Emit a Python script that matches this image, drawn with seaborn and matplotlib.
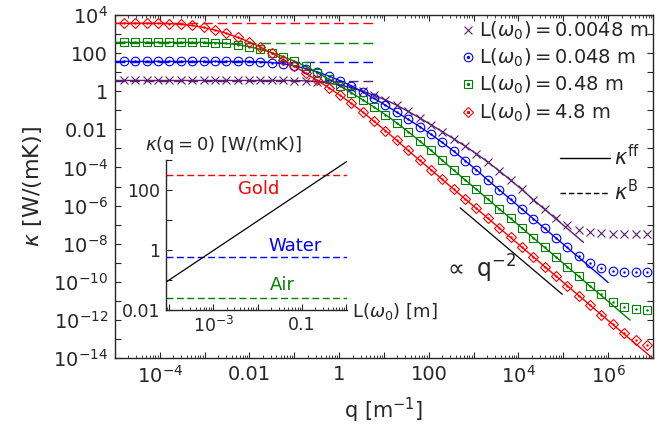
import numpy as np
import pandas as pd
import matplotlib
matplotlib.use("Agg")
import matplotlib.pyplot as plt
import seaborn as sns
from matplotlib.lines import Line2D
from matplotlib.legend_handler import HandlerTuple
from matplotlib.ticker import FixedLocator, FuncFormatter, LogLocator, NullLocator, NullFormatter

# marker positions, log10 of q [1/m]
q_exp = [-4.800, -4.546, -4.293, -4.039, -3.786, -3.532, -3.278, -3.025, -2.771, -2.518,
         -2.264, -2.010, -1.757, -1.503, -1.250, -0.996, -0.742, -0.489, -0.235, 0.018,
         0.272, 0.526, 0.779, 1.033, 1.286, 1.540, 1.794, 2.047, 2.301, 2.554,
         2.808, 3.062, 3.315, 3.569, 3.822, 4.076, 4.330, 4.583, 4.837, 5.090,
         5.344, 5.598, 5.851, 6.105, 6.358, 6.612, 6.866]

labels = [r"$\mathrm{L}\left(\omega_0\right)=0.0048\ \mathrm{m}$",
          r"$\mathrm{L}\left(\omega_0\right)=0.048\ \mathrm{m}$",
          r"$\mathrm{L}\left(\omega_0\right)=0.48\ \mathrm{m}$",
          r"$\mathrm{L}\left(\omega_0\right)=4.8\ \mathrm{m}$"]
colors = ["#5c1f70", "blue", "green", "red"]
markers = ["x", "o", "s", "D"]
msizes = [6.0, 6.2, 6.0, 4.8]

# log10 kappa^ff [W/(mK)] read at the marker positions (solid lines)
ff_purple = [0.565, 0.565, 0.565, 0.565, 0.565, 0.565, 0.565, 0.565, 0.565, 0.565,
             0.565, 0.565, 0.565, 0.565, 0.565, 0.562, 0.544, 0.504, 0.432, 0.322,
             0.181, 0.004, -0.211, -0.456, -0.734, -1.058, -1.399, -1.753, -2.123, -2.495,
             -2.878, -3.283, -3.716, -4.173, -4.663, -5.156, -5.69, -6.196, -6.704, -7.21,
             -7.718]
ff_blue = [1.565, 1.565, 1.565, 1.565, 1.565, 1.565, 1.565, 1.565, 1.565, 1.565,
           1.565, 1.562, 1.546, 1.507, 1.438, 1.330, 1.19, 1.016, 0.80, 0.56,
           0.283, -0.039, -0.38, -0.732, -1.102, -1.474, -1.856, -2.259, -2.69, -3.146,
           -3.636, -4.128, -4.66, -5.168, -5.674, -6.182, -6.69, -7.196, -7.704, -8.21,
           -8.718, -9.226, -9.732]
ff_green = [2.565, 2.565, 2.565, 2.565, 2.565, 2.565, 2.565, 2.563, 2.548, 2.513,
            2.444, 2.337, 2.20, 2.03, 1.817, 1.575, 1.30, 0.98, 0.64, 0.29,
            -0.08, -0.452, -0.832, -1.235, -1.665, -2.125, -2.61, -3.10, -3.63, -4.14,
            -4.65, -5.15, -5.66, -6.17, -6.67, -7.18, -7.69, -8.20, -8.70, -9.21,
            -9.72, -10.23, -10.73, -11.24, -11.75]
ff_red = [3.565, 3.565, 3.565, 3.563, 3.55, 3.515, 3.45, 3.345, 3.21, 3.04,
          2.83, 2.59, 2.32, 2.00, 1.66, 1.31, 0.94, 0.57, 0.19, -0.21,
          -0.64, -1.09, -1.58, -2.07, -2.58, -3.11, -3.62, -4.12, -4.63, -5.14,
          -5.65, -6.15, -6.66, -7.17, -7.67, -8.18, -8.69, -9.20, -9.70, -10.21,
          -10.72, -11.23, -11.73, -12.24, -12.75, -13.25, -13.76]

# where each solid line stops (log10 q, log10 kappa)
ff_end_exp = [5.45, 6.00, 6.49, 7.00]
ff_end_log = [-7.93, -10.04, -12.01, -14.03]

# high-q markers that leave the line (last points of each series)
tail_purple = [-6.17, -6.64, -7.02, -7.28, -7.41, -7.46, -7.47, -7.48, -7.48, -7.48]
tail_blue = [-8.19, -8.65, -9.03, -9.29, -9.41, -9.46, -9.47, -9.48]
tail_green = [-10.66, -11.05, -11.30, -11.42, -11.47]
tail_red = [-12.22, -12.68, -13.05, -13.30]

# kappa^B (dashed)
kappa_B = [3.6, 36.0, 360.0, 3650.0]
kappa_B_q = [1e-5, 5.7]

# q^-2 guide
q_guide = [500.0, 9.5e4]
kappa_guide = [7.6e-7, 2.2e-11]

# inset
L_inset = [8.5e-5, 1.05]
kappa_inset = [0.085, 900.0]
materials = ["Gold", "Water", "Air"]
kappa_mat = [318.0, 0.6, 0.026]
mat_colors = ["red", "blue", "green"]
mat_text_pos = [(0.514, 0.807), (0.713, 0.427), (0.641, 0.167)]

sns.set_style("ticks")
plt.rcParams["font.family"] = ["DejaVu Sans"]
plt.rcParams["mathtext.fontset"] = "dejavusans"
plt.rcParams["xtick.direction"] = "in"
plt.rcParams["ytick.direction"] = "in"
plt.rcParams["axes.linewidth"] = 1.0


def log_label(v, pos):
    e = int(round(np.log10(v)))
    if e % 2:
        return ""
    if -2 <= e <= 2:
        return {-2: "0.01", 0: "1", 2: "100"}[e]
    return r"$10^{%d}$" % e


fig = plt.figure(figsize=(6.72, 4.30), dpi=100)
ax = fig.add_axes([0.1711, 0.1674, 0.8006, 0.7977])
ax.set(xscale="log", yscale="log")

ff_all = [ff_purple, ff_blue, ff_green, ff_red]
tails = [tail_purple, tail_blue, tail_green, tail_red]

# dashed kappa^B
for kb, c in zip(kappa_B, colors):
    df = pd.DataFrame({"q": kappa_B_q, "k": [kb, kb]})
    sns.lineplot(data=df, x="q", y="k", ax=ax, color=c, lw=1.0,
                 linestyle=(0, (7, 3.5)), estimator=None, sort=False, legend=False)

# solid kappa^ff and markers
for i in range(4):
    ff = ff_all[i]
    n = len(ff)
    xs = [-5.0] + q_exp[:n] + [ff_end_exp[i]]
    ys = [ff[0]] + ff + [ff_end_log[i]]
    df = pd.DataFrame({"q": 10.0 ** np.array(xs), "k": 10.0 ** np.array(ys)})
    sns.lineplot(data=df, x="q", y="k", ax=ax, color=colors[i], lw=1.0,
                 estimator=None, sort=False, legend=False, zorder=3)

    keep = len(q_exp) - len(tails[i])
    pts = ff[:keep] + tails[i]
    dp = pd.DataFrame({"q": 10.0 ** np.array(q_exp), "k": 10.0 ** np.array(pts)})
    sns.lineplot(data=dp, x="q", y="k", ax=ax, color=colors[i], linestyle="",
                 marker=markers[i], markersize=msizes[i], markerfacecolor="none",
                 markeredgecolor=colors[i], markeredgewidth=0.8,
                 estimator=None, sort=False, legend=False, zorder=4)
    if markers[i] != "x":
        sns.lineplot(data=dp, x="q", y="k", ax=ax, color=colors[i], linestyle="",
                     marker="o", markersize=1.4, markeredgecolor=colors[i],
                     markeredgewidth=0.3, estimator=None, sort=False, legend=False, zorder=4)

gd = pd.DataFrame({"q": q_guide, "k": kappa_guide})
sns.lineplot(data=gd, x="q", y="k", ax=ax, color="black", lw=0.9,
             estimator=None, sort=False, legend=False)
ax.text(0.61, 0.259, r"$\propto\ \mathrm{q}^{-2}$", transform=ax.transAxes,
        fontsize=17, ha="left", va="center")

ax.set_xlim(1e-5, 1e7)
ax.set_ylim(1e-14, 1e4)
ax.xaxis.set_major_locator(FixedLocator(10.0 ** np.arange(-5, 8)))
ax.xaxis.set_major_formatter(FuncFormatter(log_label))
ax.xaxis.set_minor_locator(LogLocator(base=10, subs=np.arange(2, 10), numticks=40))
ax.xaxis.set_minor_formatter(NullFormatter())
ax.yaxis.set_major_locator(FixedLocator(10.0 ** np.arange(-14, 5)))
ax.yaxis.set_major_formatter(FuncFormatter(log_label))
ax.yaxis.set_minor_locator(NullLocator())
ax.tick_params(which="both", top=True, right=True, direction="in", labelsize=14, pad=5)
ax.tick_params(which="major", length=4.5, width=0.8)
ax.tick_params(which="minor", length=2.2, width=0.6)

ax.set_xlabel(r"$\mathrm{q}\ \left[\mathrm{m}^{-1}\right]$", fontsize=15)
ax.set_ylabel(r"$\kappa\ \left[\mathrm{W/(mK)}\right]$", fontsize=16)
ax.xaxis.set_label_coords(0.5, -0.152)
ax.xaxis.label.set_va("center")
ax.yaxis.set_label_coords(-0.154, 0.5)
ax.yaxis.label.set_va("center")

# legends
handles = []
for c, m, ms in zip(colors, markers, msizes):
    h = Line2D([], [], ls="", marker=m, ms=ms, mfc="none", mec=c, mew=0.8)
    if m != "x":
        h = (h, Line2D([], [], ls="", marker="o", ms=1.4, color=c))
    handles.append(h)
leg1 = ax.legend(handles, labels, loc="upper right", frameon=False, fontsize=14,
                 handlelength=0.7, handletextpad=0.2, labelspacing=0.25,
                 borderaxespad=0.1, borderpad=0.15,
                 handler_map={tuple: HandlerTuple(ndivide=1, pad=0)})
h_ff = Line2D([], [], color="black", lw=1.0)
h_b = Line2D([], [], color="black", lw=1.0, ls=(0, (4, 2)))
leg2 = ax.legend([h_ff, h_b], [r"$\kappa^{\mathrm{ff}}$", r"$\kappa^{\mathrm{B}}$"],
                 loc="center right", bbox_to_anchor=(1.01, 0.536), frameon=False,
                 fontsize=15, handlelength=2.4, handletextpad=0.2, labelspacing=0.45)
ax.add_artist(leg1)

# inset
axin = fig.add_axes([0.2470, 0.2791, 0.2693, 0.3488])
axin.set(xscale="log", yscale="log")
for km, c in zip(kappa_mat, mat_colors):
    dm = pd.DataFrame({"L": L_inset, "k": [km, km]})
    sns.lineplot(data=dm, x="L", y="k", ax=axin, color=c, lw=1.0,
                 linestyle=(0, (5, 2.5)), estimator=None, sort=False, legend=False)
di = pd.DataFrame({"L": L_inset, "k": kappa_inset})
sns.lineplot(data=di, x="L", y="k", ax=axin, color="black", lw=0.9,
             estimator=None, sort=False, legend=False)
for name, c, (tx, ty) in zip(materials, mat_colors, mat_text_pos):
    axin.text(tx, ty, name, color=c, fontsize=13, ha="center", va="center",
              transform=axin.transAxes)
axin.set_xlim(8.5e-5, 1.05)
axin.set_ylim(0.01, 1000)
axin.xaxis.set_major_locator(FixedLocator(10.0 ** np.arange(-4, 1)))
axin.xaxis.set_major_formatter(FuncFormatter(
    lambda v, p: {-3: r"$10^{-3}$", -1: "0.1"}.get(int(round(np.log10(v))), "")))
axin.xaxis.set_minor_locator(LogLocator(base=10, subs=np.arange(2, 10), numticks=20))
axin.xaxis.set_minor_formatter(NullFormatter())
axin.yaxis.set_major_locator(FixedLocator(10.0 ** np.arange(-2, 4)))
axin.yaxis.set_major_formatter(FuncFormatter(
    lambda v, p: {-2: "0.01", 0: "1", 2: "100"}.get(int(round(np.log10(v))), "")))
axin.yaxis.set_minor_locator(NullLocator())
axin.spines["top"].set_visible(False)
axin.spines["right"].set_visible(False)
axin.patch.set_alpha(0)
axin.tick_params(which="both", direction="in", labelsize=12.5, pad=4)
axin.tick_params(which="major", length=4, width=0.8)
axin.tick_params(which="minor", length=2, width=0.6)
axin.set_xlabel("")
axin.set_ylabel("")
axin.text(0.32, 1.10, r"$\kappa(\mathrm{q}=0)\ \left[\mathrm{W/(mK)}\right]$",
          transform=axin.transAxes, fontsize=13, ha="center", va="center")
axin.text(1.028, -0.013, r"$\mathrm{L}\left(\omega_0\right)\ \left[\mathrm{m}\right]$",
          transform=axin.transAxes, fontsize=13, ha="left", va="center")

fig.savefig("out.png", dpi=100)
